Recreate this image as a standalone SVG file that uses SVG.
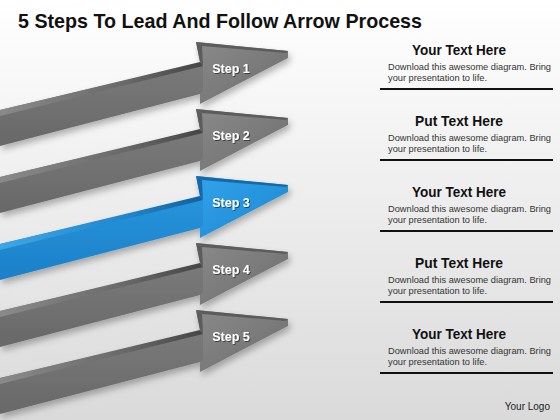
<svg xmlns="http://www.w3.org/2000/svg" width="560" height="420" viewBox="0 0 560 420">
<defs>
<linearGradient id="bg" x1="0" y1="0" x2="0" y2="1"><stop offset="0" stop-color="#ffffff"/><stop offset="1" stop-color="#dadada"/></linearGradient>
<linearGradient id="gShaft" x1="0" y1="0" x2="0" y2="1"><stop offset="0" stop-color="#7a7a7a"/><stop offset="1" stop-color="#686868"/></linearGradient>
<linearGradient id="gHead" x1="0" y1="0" x2="1" y2="1"><stop offset="0" stop-color="#8a8a8a"/><stop offset="1" stop-color="#6c6c6c"/></linearGradient>
<linearGradient id="gBevel" x1="0" y1="0" x2="1" y2="0"><stop offset="0" stop-color="#8a8a8a"/><stop offset="0.6" stop-color="#6a6a6a"/><stop offset="1" stop-color="#454545"/></linearGradient>
<linearGradient id="bShaft" x1="0" y1="0" x2="0" y2="1"><stop offset="0" stop-color="#2794dc"/><stop offset="1" stop-color="#1b80c8"/></linearGradient>
<linearGradient id="bHead" x1="0" y1="0" x2="1" y2="1"><stop offset="0" stop-color="#33a4ec"/><stop offset="1" stop-color="#1a86ce"/></linearGradient>
<linearGradient id="bBevel" x1="0" y1="0" x2="1" y2="0"><stop offset="0" stop-color="#3ea6e6"/><stop offset="0.6" stop-color="#2288cc"/><stop offset="1" stop-color="#125f9c"/></linearGradient>
<filter id="sh" x="-10%" y="-20%" width="120%" height="150%"><feDropShadow dx="2" dy="4" stdDeviation="3" flood-color="#000" flood-opacity="0.28"/></filter>
<filter id="ts" x="-10%" y="-30%" width="120%" height="160%"><feDropShadow dx="1" dy="1" stdDeviation="0.6" flood-color="#000" flood-opacity="0.5"/></filter>
</defs>
<style>
.title{font-family:"Liberation Sans",Arial,sans-serif;font-weight:bold;font-size:21px;fill:#111}
.step{font-family:"Liberation Sans",Arial,sans-serif;font-weight:bold;font-size:12.5px;fill:#fff;text-anchor:middle}
.h{font-family:"Liberation Sans",Arial,sans-serif;font-weight:bold;font-size:14px;fill:#111;text-anchor:middle}
.b{font-family:"Liberation Sans",Arial,sans-serif;font-size:9.3px;fill:#333}
.logo{font-family:"Liberation Sans",Arial,sans-serif;font-size:10px;fill:#222}
.rule{stroke:#111;stroke-width:2}
.gray .shaft{fill:url(#gShaft)}
.gray .head{fill:url(#gHead)}
.gray .bevel{fill:url(#gBevel)}
.gray .edge{fill:#5c5c5c}
.blue .shaft{fill:url(#bShaft)}
.blue .head{fill:url(#bHead)}
.blue .bevel{fill:url(#bBevel)}
.blue .edge{fill:#1769a8}
</style>
<rect width="560" height="420" fill="url(#bg)"/>
<text class="title" x="18" y="28" textLength="404" lengthAdjust="spacingAndGlyphs">5 Steps To Lead And Follow Arrow Process</text>

<g id="arrow1" class="gray" filter="url(#sh)">
<polygon class="shaft" points="0,110 204,62 204,93 0,146"/>
<polygon class="bevel" points="0,110 200,62 203,66 0,116"/>
<polygon class="head" points="196,42 288,51 288,58 200,104 200,94 203,91 203,66 200,62"/>
<polygon class="edge" points="196,42 288,51 286,53 202,46"/>
<polygon class="edge" points="196,42 202,46 203,66 200,62"/>
<text class="step" x="231" y="73" filter="url(#ts)">Step 1</text>
</g>
<g id="arrow2" class="gray" filter="url(#sh)" transform="translate(0,67)">
<polygon class="shaft" points="0,110 204,62 204,93 0,146"/>
<polygon class="bevel" points="0,110 200,62 203,66 0,116"/>
<polygon class="head" points="196,42 288,51 288,58 200,104 200,94 203,91 203,66 200,62"/>
<polygon class="edge" points="196,42 288,51 286,53 202,46"/>
<polygon class="edge" points="196,42 202,46 203,66 200,62"/>
<text class="step" x="231" y="73" filter="url(#ts)">Step 2</text>
</g>
<g id="arrow3" class="blue" filter="url(#sh)" transform="translate(0,134)">
<polygon class="shaft" points="0,110 204,62 204,93 0,146"/>
<polygon class="bevel" points="0,110 200,62 203,66 0,116"/>
<polygon class="head" points="196,42 288,51 288,58 200,104 200,94 203,91 203,66 200,62"/>
<polygon class="edge" points="196,42 288,51 286,53 202,46"/>
<polygon class="edge" points="196,42 202,46 203,66 200,62"/>
<text class="step" x="231" y="73" filter="url(#ts)">Step 3</text>
</g>
<g id="arrow4" class="gray" filter="url(#sh)" transform="translate(0,201)">
<polygon class="shaft" points="0,110 204,62 204,93 0,146"/>
<polygon class="bevel" points="0,110 200,62 203,66 0,116"/>
<polygon class="head" points="196,42 288,51 288,58 200,104 200,94 203,91 203,66 200,62"/>
<polygon class="edge" points="196,42 288,51 286,53 202,46"/>
<polygon class="edge" points="196,42 202,46 203,66 200,62"/>
<text class="step" x="231" y="73" filter="url(#ts)">Step 4</text>
</g>
<g id="arrow5" class="gray" filter="url(#sh)" transform="translate(0,268)">
<polygon class="shaft" points="0,110 204,62 204,93 0,146"/>
<polygon class="bevel" points="0,110 200,62 203,66 0,116"/>
<polygon class="head" points="196,42 288,51 288,58 200,104 200,94 203,91 203,66 200,62"/>
<polygon class="edge" points="196,42 288,51 286,53 202,46"/>
<polygon class="edge" points="196,42 202,46 203,66 200,62"/>
<text class="step" x="231" y="73" filter="url(#ts)">Step 5</text>
</g>

<g id="text1">
<text class="h" x="459" y="55" textLength="94" lengthAdjust="spacingAndGlyphs">Your Text Here</text>
<text class="b" x="388" y="70" textLength="163" lengthAdjust="spacingAndGlyphs">Download this awesome diagram. Bring</text>
<text class="b" x="388" y="81" textLength="99" lengthAdjust="spacingAndGlyphs">your presentation to life.</text>
<line class="rule" x1="380" y1="89" x2="553" y2="89"/>
</g>
<g id="text2">
<text class="h" x="459" y="126" textLength="88" lengthAdjust="spacingAndGlyphs">Put Text Here</text>
<text class="b" x="388" y="141" textLength="163" lengthAdjust="spacingAndGlyphs">Download this awesome diagram. Bring</text>
<text class="b" x="388" y="152" textLength="99" lengthAdjust="spacingAndGlyphs">your presentation to life.</text>
<line class="rule" x1="380" y1="160" x2="553" y2="160"/>
</g>
<g id="text3">
<text class="h" x="459" y="197" textLength="94" lengthAdjust="spacingAndGlyphs">Your Text Here</text>
<text class="b" x="388" y="212" textLength="163" lengthAdjust="spacingAndGlyphs">Download this awesome diagram. Bring</text>
<text class="b" x="388" y="223" textLength="99" lengthAdjust="spacingAndGlyphs">your presentation to life.</text>
<line class="rule" x1="380" y1="231" x2="553" y2="231"/>
</g>
<g id="text4">
<text class="h" x="459" y="268" textLength="88" lengthAdjust="spacingAndGlyphs">Put Text Here</text>
<text class="b" x="388" y="283" textLength="163" lengthAdjust="spacingAndGlyphs">Download this awesome diagram. Bring</text>
<text class="b" x="388" y="294" textLength="99" lengthAdjust="spacingAndGlyphs">your presentation to life.</text>
<line class="rule" x1="380" y1="302" x2="553" y2="302"/>
</g>
<g id="text5">
<text class="h" x="459" y="339" textLength="94" lengthAdjust="spacingAndGlyphs">Your Text Here</text>
<text class="b" x="388" y="354" textLength="163" lengthAdjust="spacingAndGlyphs">Download this awesome diagram. Bring</text>
<text class="b" x="388" y="365" textLength="99" lengthAdjust="spacingAndGlyphs">your presentation to life.</text>
<line class="rule" x1="380" y1="373" x2="553" y2="373"/>
</g>
<text class="logo" x="550" y="410" text-anchor="end">Your Logo</text>
</svg>
